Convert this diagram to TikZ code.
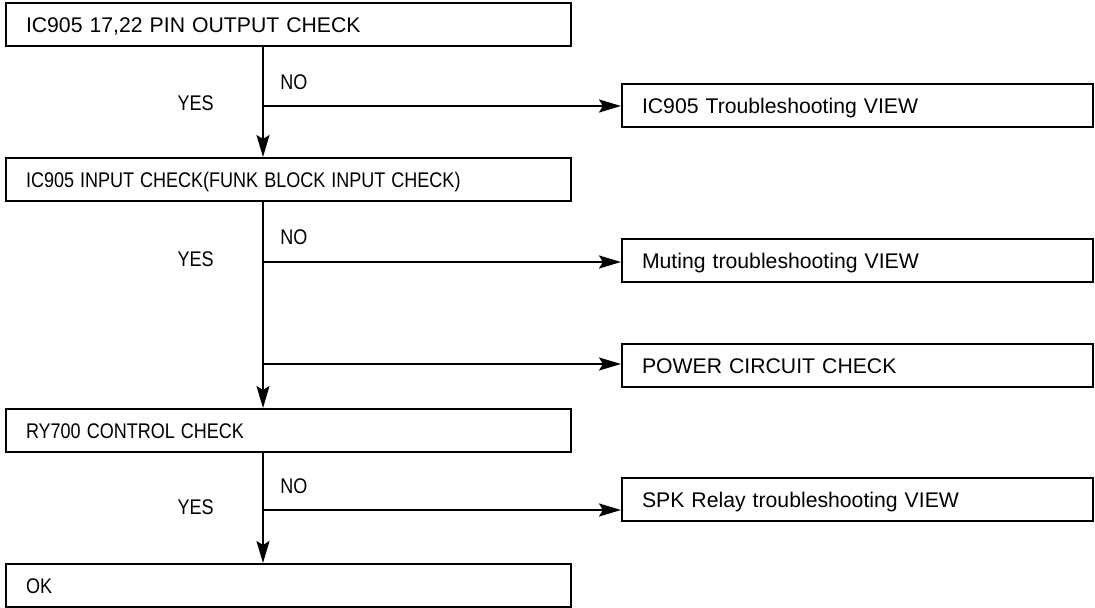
\documentclass[tikz,border=0pt]{standalone}
\usepackage{graphicx}
\usepackage{fontspec}
\setmainfont{Liberation Sans}
\usetikzlibrary{arrows.meta}
\newcommand{\condtxt}[1]{\scalebox{0.85}[1]{#1}}
\begin{document}
\begin{tikzpicture}[x=0.5pt, y=-0.5pt, >={Stealth[length=11pt,width=6.5pt,inset=2pt]},
	font=\fontsize{10.6}{12}\selectfont,
	box/.style={draw, line width=1pt, anchor=north west, minimum height=21.5pt,
		inner xsep=10pt, inner ysep=0pt, align=left, text height=7.6pt, text depth=0pt},
	mainbox/.style={box, text width=262.5pt},
	sidebox/.style={box, text width=215.5pt},
	flow/.style={line width=1pt, ->},
	lbl/.style={inner sep=0pt}]
	\useasboundingbox (0,0) rectangle (1095,608);
	
	% cột kiểm tra chính
	\node[mainbox] (chk1) at (5,2) {IC905 17,22 PIN OUTPUT CHECK};
	\node[mainbox] (chk2) at (5,157) {\condtxt{IC905 INPUT CHECK(FUNK BLOCK INPUT CHECK)}};
	\node[mainbox] (chk3) at (5,408) {\condtxt{RY700 CONTROL CHECK}};
	\node[mainbox] (ok) at (5,563) {\condtxt{OK}};
	
	% các hộp bên phải
	\node[sidebox] (view1) at (621,83) {IC905 Troubleshooting VIEW};
	\node[sidebox] (view2) at (621,238) {Muting troubleshooting VIEW};
	\node[sidebox] (power) at (621,343) {POWER CIRCUIT CHECK};
	\node[sidebox] (view3) at (621,477) {SPK Relay troubleshooting VIEW};
	
	% điểm rẽ nhánh
	\coordinate (b1) at (263,106);
	\coordinate (b2) at (263,262);
	\coordinate (b3) at (263,364);
	\coordinate (b4) at (263,510);
	
	\draw[flow] (b1 |- chk1.south) -- (b1 |- chk2.north);
	\draw[flow] (b2 |- chk2.south) -- (b2 |- chk3.north);
	\draw[flow] (b4 |- chk3.south) -- (b4 |- ok.north);
	
	\draw[flow] (b1) -- (b1 -| view1.west);
	\draw[flow] (b2) -- (b2 -| view2.west);
	\draw[flow] (b3) -- (b3 -| power.west);
	\draw[flow] (b4) -- (b4 -| view3.west);
	
	\node[lbl, anchor=east] (yes1) at (214,103) {\condtxt{YES}};
	\node[lbl, anchor=west] (no1) at (280,82) {\condtxt{NO}};
	\node[lbl, anchor=east] (yes2) at (214,259) {\condtxt{YES}};
	\node[lbl, anchor=west] (no2) at (280,237) {\condtxt{NO}};
	\node[lbl, anchor=east] (yes3) at (214,507) {\condtxt{YES}};
	\node[lbl, anchor=west] (no3) at (280,486) {\condtxt{NO}};
\end{tikzpicture}
\end{document}
